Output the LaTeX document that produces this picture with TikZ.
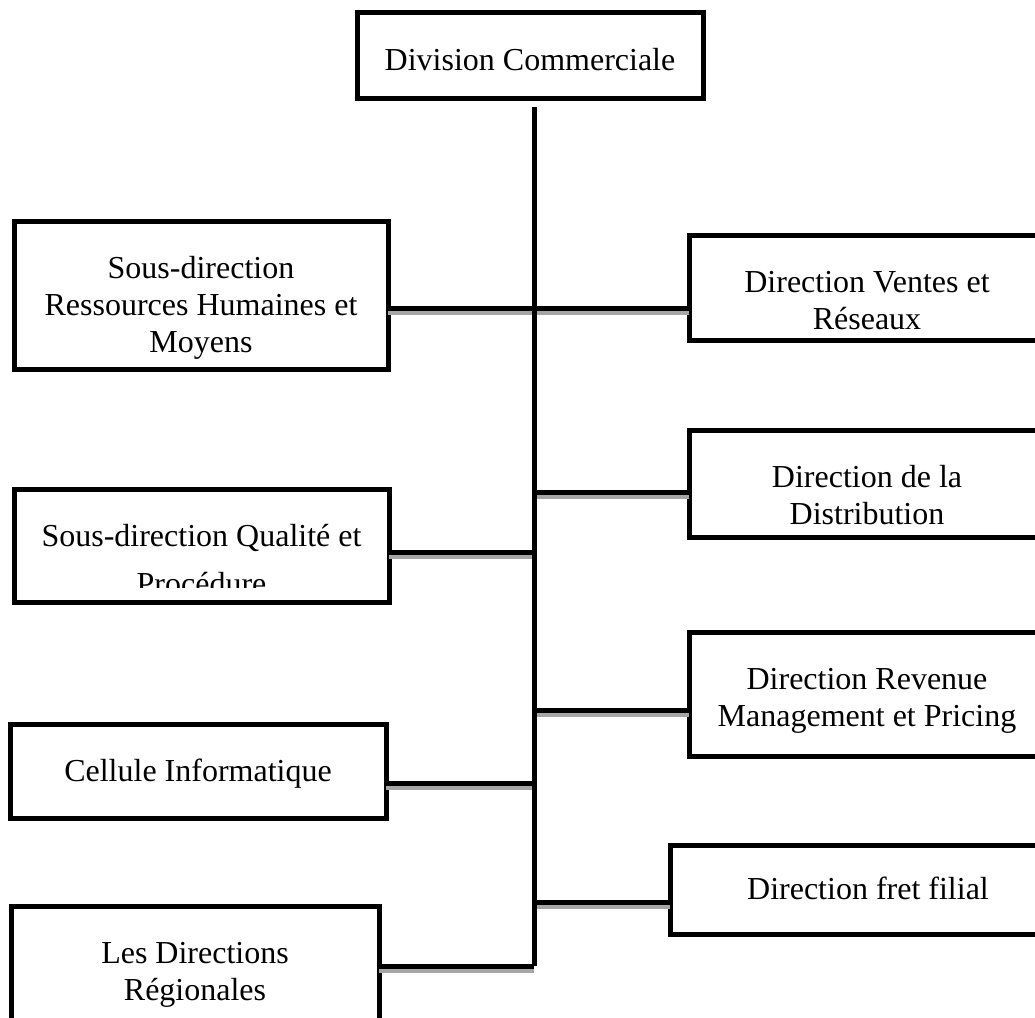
\documentclass[tikz,border=0pt]{standalone}
\usepackage{fontspec}
\setmainfont{Liberation Serif}
\usetikzlibrary{calc}

\begin{document}
\begin{tikzpicture}[x=0.5pt, y=-0.5pt, font=\fontsize{16}{18.5}\selectfont,
  unit/.style={draw, line width=2.5pt, align=center, inner sep=0pt, outer sep=0pt, anchor=north west},
  conn/.style={line width=2.5pt, preaction={draw=gray!70, line width=2.5pt, transform canvas={yshift=-2pt}}},
  trunk/.style={line width=2.5pt}]
  \clip (0,0) rectangle (1035,1018);
  \coordinate (ttop) at (534,107); \coordinate (tbot) at (534,966);
  \coordinate (j1) at (534,308); \coordinate (j2) at (534,492); \coordinate (j3) at (534,552);
  \coordinate (j4) at (534,710); \coordinate (j5) at (534,783); \coordinate (j6) at (534,902);
  \node[unit, minimum width=173pt, text height=29.25pt, text depth=13.75pt] (div) at (357,12) {Division Commerciale};
  \node[unit, minimum width=187pt, text height=65.75pt, text depth=8.25pt] (rh) at (14,221) {Sous-direction\\Ressources Humaines et\\Moyens};
  \node[unit, minimum width=178pt, text height=47.25pt, text depth=5.25pt] (ventes) at (689,235) {Direction Ventes et\\Réseaux};
  \node[unit, minimum width=178pt, text height=47.25pt, text depth=6.25pt] (distr) at (689,430) {Direction de la\\Distribution};
  \node[unit, minimum width=187.5pt, text height=52.75pt, text depth=3.75pt] (qual) at (14,489) {Sous-direction Qualité et\\[5.5pt]Procédure};
  \fill[white] ($(qual.south west)+(1.25pt,1.25pt)$) rectangle ($(qual.south east)+(-1.25pt,7pt)$);
  \node[unit, minimum width=178pt, text height=47.25pt, text depth=14.75pt] (rev) at (689,632) {Direction Revenue\\Management et Pricing};
  \node[unit, minimum width=188pt, text height=28.75pt, text depth=18.25pt] (cell) at (10,724) {Cellule Informatique};
  \node[unit, minimum width=198pt, text height=27.25pt, text depth=17.25pt] (fret) at (670,845) {Direction fret filial};
  \node[unit, minimum width=184pt, text height=47.25pt, text depth=22.75pt] (dirreg) at (11,906) {Les Directions\\Régionales};
  \draw[conn] (rh.east |- j1) -- (ventes.west |- j1);
  \draw[conn] (j2) -- (distr.west |- j2);
  \draw[conn] (qual.east |- j3) -- (j3);
  \draw[conn] (j4) -- (rev.west |- j4);
  \draw[conn] (cell.east |- j5) -- (j5);
  \draw[conn] (j6) -- (fret.west |- j6);
  \draw[conn] (dirreg.east |- tbot) -- (tbot);
  \draw[trunk] (ttop) -- (tbot);
\end{tikzpicture}
\end{document}
